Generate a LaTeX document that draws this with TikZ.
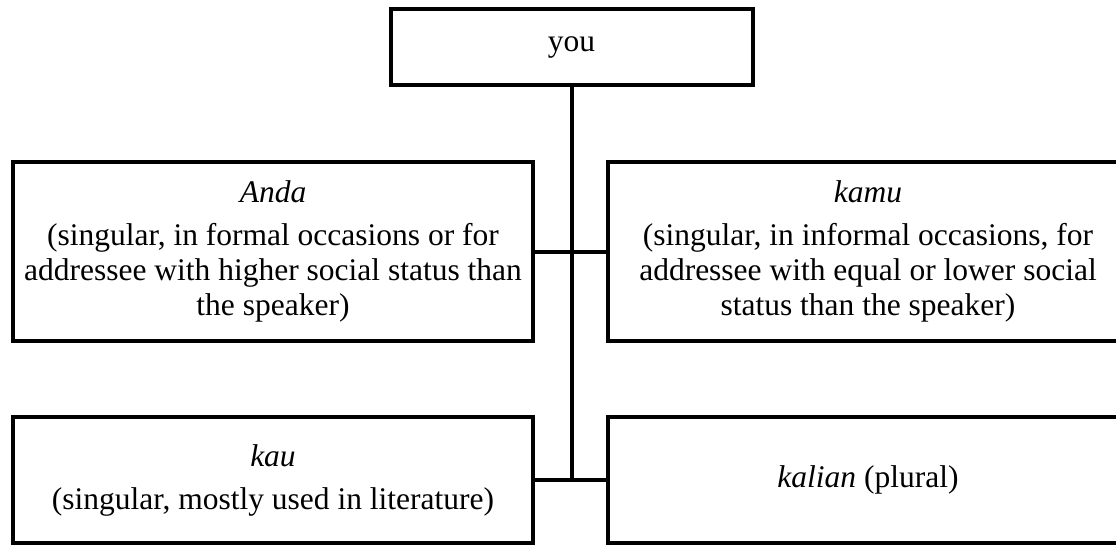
\documentclass[tikz,border=0pt]{standalone}
\usepackage{fontspec}
\setmainfont{Liberation Serif}
\begin{document}
\begin{tikzpicture}[x=1pt,y=-1pt,
  box/.style={draw=black, line width=4pt, rectangle, inner sep=0pt, align=center,
    font=\fontsize{31.5}{35}\selectfont},
  link/.style={draw=black, line width=4pt}]
\useasboundingbox (0,0) rectangle (1116,546);
\node[box, minimum width=362, minimum height=76] (you) at (571.5,47) {you};
\node[box, minimum width=520, minimum height=179] (anda) at (273,251.5)
  {\textit{Anda}\\[8pt](singular, in formal occasions or for\\addressee with higher social status than\\the speaker)};
\node[box, minimum width=520, minimum height=179] (kamu) at (868,251.5)
  {\textit{kamu}\\[8pt](singular, in informal occasions, for\\addressee with equal or lower social\\status than the speaker)};
\node[box, minimum width=520, minimum height=126] (kau) at (273,480)
  {\textit{kau}\\[8pt](singular, mostly used in literature)};
\node[box, minimum width=520, minimum height=126] (kalian) at (868,480)
  {\textit{kalian} (plural)};
\coordinate (j2) at (571.5,480);
\draw[link] (you.south) -- (j2);
\draw[link] (anda.east) -- (kamu.west);
\draw[link] (kau.east) -- (kalian.west);
\end{tikzpicture}
\end{document}
